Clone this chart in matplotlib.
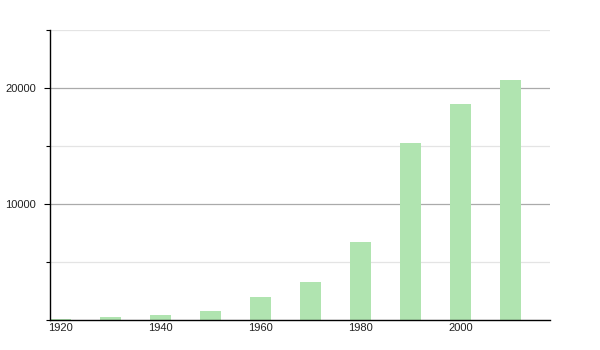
import matplotlib
matplotlib.use("Agg")
import matplotlib.pyplot as plt
from matplotlib.ticker import MultipleLocator

plt.rcParams["font.family"] = ["Liberation Sans", "DejaVu Sans"]

years = [1920, 1930, 1940, 1950, 1960, 1970, 1980, 1990, 2000, 2010]
population = [90, 270, 460, 780, 2010, 3300, 6720, 15280, 18650, 20690]
xticks = [1920, 1940, 1960, 1980, 2000]

fig = plt.figure(figsize=(6, 3.5), dpi=100)
ax = fig.add_axes([50 / 600, 30 / 350, 500 / 600, 290 / 350])

ax.bar(years, population, width=4.1, color="#b0e4b0", zorder=2)

ax.set_xlim(1917.9, 2017.9)
ax.set_ylim(0, 25000)
ax.yaxis.set_major_locator(MultipleLocator(10000))
ax.yaxis.set_minor_locator(MultipleLocator(5000))
ax.set_yticks([10000, 20000])
ax.set_xticks(xticks)
ax.set_xticklabels([str(x) for x in xticks])

ax.grid(axis="y", which="major", color="#aaaaaa", linewidth=0.9, zorder=0)
for y in [5000, 15000, 25000]:
    ax.axhline(y, color="#e4e4e4", linewidth=0.9, zorder=0)

for s in ["top", "right"]:
    ax.spines[s].set_visible(False)
ax.spines["left"].set_linewidth(1.0)
ax.spines["bottom"].set_linewidth(1.0)
ax.tick_params(axis="y", which="major", length=4, width=0.8, labelsize=8,
               pad=6, labelcolor="#222222")
ax.tick_params(axis="y", which="minor", length=3, width=0.8)
ax.tick_params(axis="x", length=0, labelsize=8, pad=2, labelcolor="#222222")

fig.savefig("out.png", dpi=100)
